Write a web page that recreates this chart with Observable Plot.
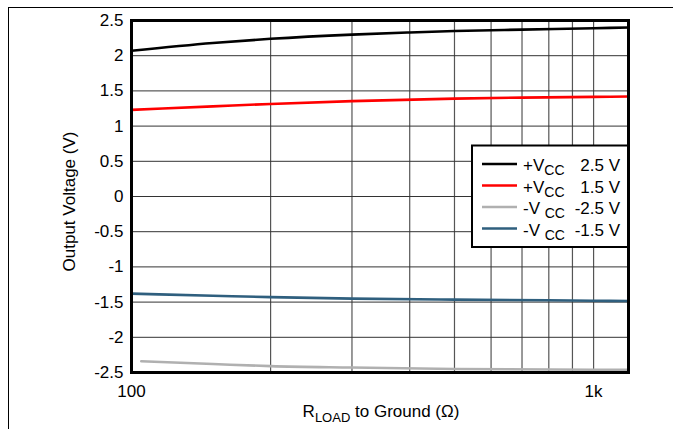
<!DOCTYPE html>
<html>
<head>
<meta charset="utf-8">
<script src="https://cdn.jsdelivr.net/npm/d3@7"></script>
<script src="https://cdn.jsdelivr.net/npm/@observablehq/plot@0.6"></script>
<style>
  html, body { margin: 0; padding: 0; background: #fff; }
  #chart { position: relative; width: 673px; height: 429px; overflow: hidden; }
  svg { font-family: "Liberation Sans", Arial, sans-serif; }
</style>
</head>
<body>
<div id="chart"></div>
<script>
// Series data (R in ohms, output voltage in V)
const rPos25 = [100, 150, 200, 300, 400, 500, 700, 1000, 1190];
const vPos25 = [2.07, 2.18, 2.24, 2.30, 2.33, 2.35, 2.37, 2.39, 2.40];

const rPos15 = [100, 150, 200, 300, 500, 700, 1000, 1190];
const vPos15 = [1.23, 1.28, 1.315, 1.355, 1.39, 1.405, 1.415, 1.42];

const rNeg25 = [105, 150, 200, 300, 500, 1000, 1190];
const vNeg25 = [-2.34, -2.38, -2.41, -2.43, -2.45, -2.46, -2.46];

const rNeg15 = [100, 150, 200, 300, 500, 1000, 1190];
const vNeg15 = [-1.38, -1.41, -1.43, -1.45, -1.465, -1.48, -1.485];

const seriesNames = ["+VCC 2.5 V", "+VCC 1.5 V", "-VCC -2.5 V", "-VCC -1.5 V"];
const seriesColors = ["#000000", "#ff0000", "#b0b0b0", "#2f5f7e"];
const legendPrefix = ["+V", "+V", "-V ", "-V "];
const legendValue = ["2.5 V", "1.5 V", "-2.5 V", "-1.5 V"];

const xTicks = [100, 1000];
const xTickLabels = ["100", "1k"];
const xGrid = [200, 300, 400, 500, 600, 700, 800, 900, 1000];
const yTicks = [-2.5, -2, -1.5, -1, -0.5, 0, 0.5, 1, 1.5, 2, 2.5];
const yGrid = [-2, -1.5, -1, -0.5, 0, 0.5, 1, 1.5, 2];

const rows = [];
[[rPos25, vPos25], [rPos15, vPos15], [rNeg25, vNeg25], [rNeg15, vNeg15]].forEach(([rs, vs], i) => {
  rs.forEach((r, j) => rows.push({r, v: vs[j], s: seriesNames[i]}));
});

const FS = 17;

const plot = Plot.plot({
  width: 673,
  height: 429,
  marginLeft: 131,
  marginRight: 45,
  marginTop: 20,
  marginBottom: 57,
  style: {fontFamily: "Liberation Sans, Arial, sans-serif", fontSize: FS + "px", color: "#000", background: "#fff"},
  x: {type: "log", domain: [100, 1190]},
  y: {domain: [-2.5, 2.5]},
  color: {domain: seriesNames, range: seriesColors},
  marks: [
    Plot.ruleX(xGrid, {stroke: "#555", strokeWidth: 1.2}),
    Plot.ruleY(yGrid, {stroke: "#333", strokeWidth: 1}),
    Plot.axisX({ticks: xTicks, tickFormat: (d) => xTickLabels[xTicks.indexOf(d)], tickSize: 0, tickPadding: 12, label: null, fontSize: FS}),
    Plot.axisY({ticks: yTicks, tickFormat: (d) => String(d), tickSize: 0, tickPadding: 8, label: null, fontSize: FS}),
    Plot.line(rows, {x: "r", y: "v", z: "s", stroke: "s", strokeWidth: 2.6, curve: "monotone-x"}),
    Plot.text(["Output Voltage (V)"], {frameAnchor: "left", textAnchor: "middle", dx: -62, dy: 5, rotate: -90, fontSize: FS, fill: "#000"}),
    Plot.frame({stroke: "#000", strokeWidth: 3})
  ]
});

document.getElementById("chart").appendChild(plot);

const svg = d3.select(plot);

// outer figure frame
svg.append("rect")
  .attr("x", 8.5).attr("y", 7.5).attr("width", 720).attr("height", 500)
  .attr("fill", "none").attr("stroke", "#000").attr("stroke-width", 1);

// x axis label with subscript
const xl = svg.append("text")
  .attr("x", 381).attr("y", 417)
  .attr("text-anchor", "middle")
  .attr("font-size", FS)
  .attr("fill", "#000");
xl.append("tspan").text("R");
xl.append("tspan").attr("font-size", 13).attr("dy", 5).text("LOAD");
xl.append("tspan").attr("dy", -5).text(" to Ground (\u03A9)");

// legend
const lg = svg.append("g");
lg.append("rect")
  .attr("x", 472).attr("y", 145.5).attr("width", 156).attr("height", 101.5)
  .attr("fill", "#fff").attr("stroke", "#000").attr("stroke-width", 2);
seriesNames.forEach((name, i) => {
  const y = 164 + i * 21.5;
  lg.append("line")
    .attr("x1", 482).attr("x2", 517).attr("y1", y).attr("y2", y)
    .attr("stroke", seriesColors[i]).attr("stroke-width", 2.6);
  const t = lg.append("text")
    .attr("x", 523).attr("y", y + 7)
    .attr("text-anchor", "start")
    .attr("font-size", FS).attr("fill", "#000");
  t.append("tspan").text(legendPrefix[i]);
  t.append("tspan").attr("font-size", 14).attr("dy", 4).text("CC");
  lg.append("text")
    .attr("x", 620).attr("y", y + 7)
    .attr("text-anchor", "end")
    .attr("font-size", FS).attr("fill", "#000")
    .text(legendValue[i]);
});
</script>
</body>
</html>
